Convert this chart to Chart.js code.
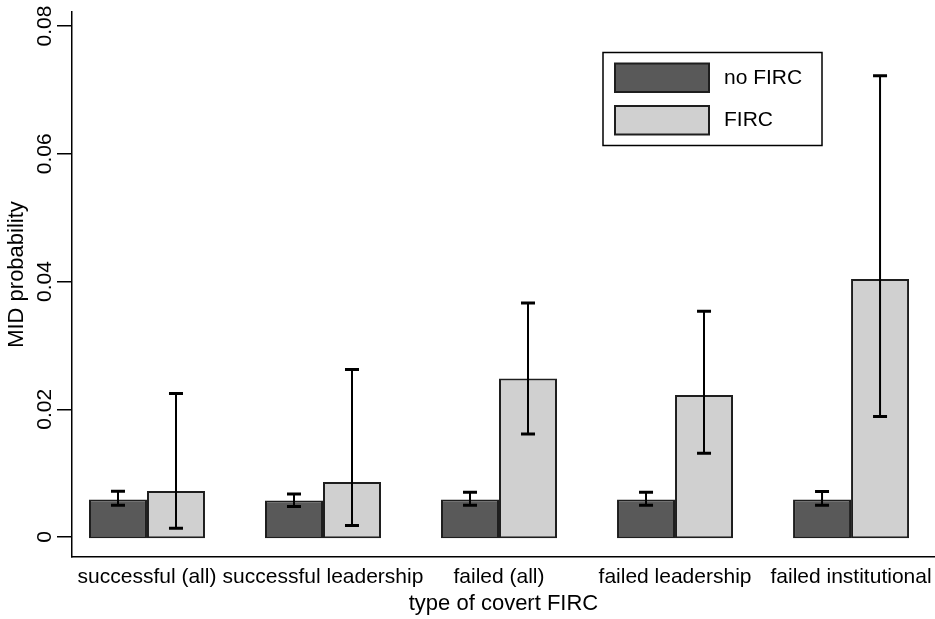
<!DOCTYPE html>
<html>
<head>
<meta charset="utf-8">
<script src="https://cdn.jsdelivr.net/npm/chart.js@4"></script>
<style>
html,body{margin:0;padding:0;background:#fff;}
canvas{display:block;}
</style>
</head>
<body>
<canvas id="c" width="935" height="619"></canvas>
<script>
const categories = ["successful (all)", "successful leadership", "failed (all)", "failed leadership", "failed institutional"];
const seriesNames = ["no FIRC", "FIRC"];
const noFircValues = [0.00586, 0.00570, 0.00586, 0.00586, 0.00586];
const noFircLow    = [0.00497, 0.00476, 0.00497, 0.00497, 0.00497];
const noFircHigh   = [0.00716, 0.00674, 0.00700, 0.00700, 0.00711];
const fircValues   = [0.00721, 0.00862, 0.02481, 0.02224, 0.04041];
const fircLow      = [0.00136, 0.00179, 0.01613, 0.01311, 0.01886];
const fircHigh     = [0.02246, 0.02624, 0.03665, 0.03535, 0.07221];
const yTickValues  = [0, 0.02, 0.04, 0.06, 0.08];
const yTickLabels  = ["0", "0.02", "0.04", "0.06", "0.08"];
const yTitle = "MID probability";
const xTitle = "type of covert FIRC";

const FONT = "Liberation Sans, Arial, Helvetica, sans-serif";
const darkFill = "#595959", lightFill = "#d0d0d0", edge = "#1e1e1e";

const errLow = [noFircLow, fircLow];
const errHigh = [noFircHigh, fircHigh];

const errorBarPlugin = {
  id: "errorBars",
  afterDatasetsDraw(chart) {
    const ctx = chart.ctx, y = chart.scales.y;
    ctx.save();
    ctx.strokeStyle = "#000";
    chart.data.datasets.forEach((ds, di) => {
      const meta = chart.getDatasetMeta(di);
      meta.data.forEach((bar, i) => {
        const x = bar.x;
        const yl = y.getPixelForValue(errLow[di][i]);
        const yh = y.getPixelForValue(errHigh[di][i]);
        ctx.lineWidth = 2;
        ctx.beginPath(); ctx.moveTo(x, yl); ctx.lineTo(x, yh); ctx.stroke();
        ctx.lineWidth = 3;
        ctx.beginPath();
        ctx.moveTo(x - 7, yl); ctx.lineTo(x + 7, yl);
        ctx.moveTo(x - 7, yh); ctx.lineTo(x + 7, yh);
        ctx.stroke();
      });
    });
    ctx.restore();
  }
};

const yLabelPlugin = {
  id: "yLabels",
  afterDraw(chart) {
    const ctx = chart.ctx, y = chart.scales.y;
    ctx.save();
    ctx.fillStyle = "#000";
    ctx.textAlign = "center";
    ctx.textBaseline = "middle";
    ctx.font = "21px " + FONT;
    yTickValues.forEach((v, i) => {
      const py = y.getPixelForValue(v);
      ctx.save();
      ctx.translate(45, py);
      ctx.rotate(-Math.PI / 2);
      ctx.fillText(yTickLabels[i], 0, 0);
      ctx.restore();
    });
    const cy = (y.getPixelForValue(0) + y.top) / 2;
    ctx.font = "22px " + FONT;
    ctx.save();
    ctx.translate(17, cy);
    ctx.rotate(-Math.PI / 2);
    ctx.fillText(yTitle, 0, 0);
    ctx.restore();
    ctx.restore();
  }
};

const legendPlugin = {
  id: "boxLegend",
  afterDraw(chart) {
    const ctx = chart.ctx;
    ctx.save();
    ctx.lineWidth = 1.5;
    ctx.strokeStyle = "#000";
    ctx.strokeRect(603, 52.5, 219, 93);
    chart.data.datasets.forEach((ds, i) => {
      const top = 63.5 + i * 42.5;
      ctx.fillStyle = ds.backgroundColor;
      ctx.fillRect(615, top, 94, 28.5);
      ctx.lineWidth = 2;
      ctx.strokeStyle = edge;
      ctx.strokeRect(615, top, 94, 28.5);
      ctx.fillStyle = "#000";
      ctx.font = "21px " + FONT;
      ctx.textAlign = "left";
      ctx.textBaseline = "middle";
      ctx.fillText(ds.label, 724, top + 14.5);
    });
    ctx.restore();
  }
};

const barBase = -0.0002;
function mk(values) { return values.map((v, i) => ({ x: i, y: v })); }

new Chart(document.getElementById("c"), {
  type: "bar",
  data: {
    datasets: [
      { label: seriesNames[0], data: mk(noFircValues), backgroundColor: darkFill, borderColor: edge, borderWidth: 2, borderSkipped: false, base: barBase },
      { label: seriesNames[1], data: mk(fircValues), backgroundColor: lightFill, borderColor: edge, borderWidth: 2, borderSkipped: false, base: barBase }
    ]
  },
  options: {
    responsive: false,
    devicePixelRatio: 1,
    animation: false,
    layout: { padding: { top: 12, right: 0, bottom: 0, left: 0 } },
    datasets: { bar: { categoryPercentage: 0.659, barPercentage: 1.0 } },
    plugins: { legend: { display: false }, tooltip: { enabled: false } },
    scales: {
      x: {
        type: "linear",
        min: -0.426,
        max: 4.477,
        offset: false,
        afterBuildTicks(s) { s.ticks = categories.map((c, i) => ({ value: i })); },
        afterFit(s) { s.height = 62; s.paddingLeft = 0; s.paddingRight = 0; },
        grid: { display: false, drawTicks: false },
        border: { display: true, color: "#000", width: 1.5 },
        ticks: {
          autoSkip: false, maxRotation: 0, minRotation: 0, padding: 8,
          color: "#000", font: { family: FONT, size: 21 },
          callback: (v) => categories[v]
        },
        title: { display: true, text: xTitle, color: "#000", font: { family: FONT, size: 22 }, padding: { top: 0, bottom: 2 } }
      },
      y: {
        type: "linear",
        min: -0.00313,
        max: 0.0822,
        afterBuildTicks(s) { s.ticks = yTickValues.map(v => ({ value: v })); },
        afterFit(s) { s.width = 72; s.paddingTop = 0; s.paddingBottom = 0; },
        grid: { drawOnChartArea: false, drawTicks: true, tickLength: 15, color: "#000", lineWidth: 1.5 },
        border: { display: true, color: "#000", width: 1.5 },
        ticks: { display: false },
        title: { display: false }
      }
    }
  },
  plugins: [errorBarPlugin, yLabelPlugin, legendPlugin]
});
</script>
</body>
</html>
